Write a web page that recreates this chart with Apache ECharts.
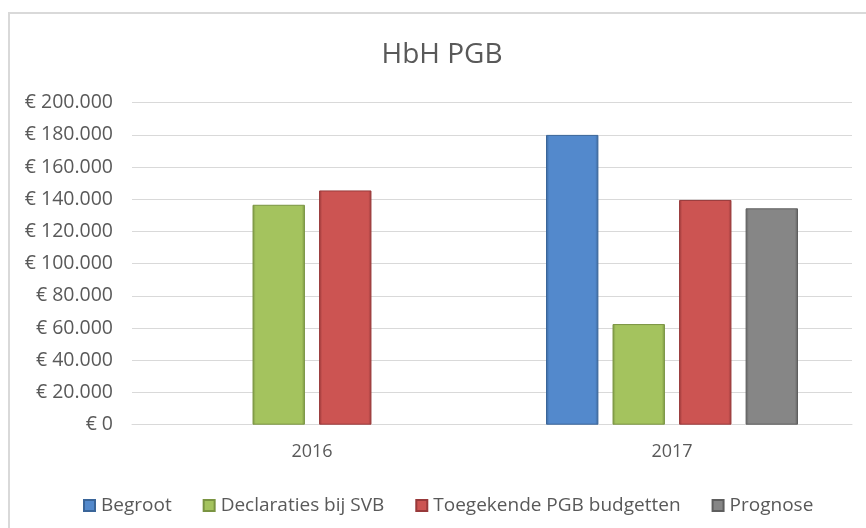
<!DOCTYPE html>
<html>
<head>
<meta charset="utf-8">
<script src="https://cdn.jsdelivr.net/npm/echarts@6/dist/echarts.min.js"></script>
<style>
  html, body { margin: 0; padding: 0; background: #fff; }
  #main { width: 866px; height: 528px; }
</style>
</head>
<body>
<div id="main"></div>
<script>
var years = ['2016', '2017'];
var seriesNames = ['Begroot', 'Declaraties bij SVB', 'Toegekende PGB budgetten', 'Prognose'];
var begroot = [null, 180000];
var declaraties = [136600, 62500];
var toegekend = [145500, 139600];
var prognose = [null, 134400];
var yTicks = [0, 20000, 40000, 60000, 80000, 100000, 120000, 140000, 160000, 180000, 200000];

var colors = ['#5389CC', '#A4C35E', '#CC5452', '#868686'];
var edges = ['#3A6599', '#7A9442', '#98393A', '#5E5E5E'];

var font = "'Open Sans', 'Liberation Sans', sans-serif";

function euro(v) {
    return '€ ' + String(v).replace(/\B(?=(\d{3})+(?!\d))/g, '.');
}

function barStyle(i) {
    return {
        color: {
            type: 'linear', x: 0, y: 0, x2: 1, y2: 0,
            colorStops: [
                { offset: 0, color: edges[i] },
                { offset: 0.06, color: colors[i] },
                { offset: 0.94, color: colors[i] },
                { offset: 1, color: edges[i] }
            ]
        },
        borderColor: edges[i],
        borderWidth: 1
    };
}

var allData = [begroot, declaraties, toegekend, prognose];
var series = [];
for (var i = 0; i < seriesNames.length; i++) {
    series.push({
        name: seriesNames[i],
        type: 'bar',
        barGap: '27%',
        barCategoryGap: '30%',
        itemStyle: barStyle(i),
        data: allData[i]
    });
}

var option = {
    animation: false,
    color: colors,
    textStyle: { fontFamily: font },
    graphic: [{
        type: 'rect',
        shape: { x: 9, y: 13, width: 900, height: 600 },
        style: { fill: 'none', stroke: '#D9D9D9', lineWidth: 2 },
        silent: true
    }],
    title: {
        text: 'HbH PGB',
        left: 437,
        textAlign: 'center',
        top: 36,
        textStyle: { fontFamily: font, fontSize: 28, fontWeight: 'normal', color: '#595959' }
    },
    legend: {
        left: 78,
        top: 491,
        itemWidth: 11,
        itemHeight: 11,
        itemGap: 31,
        icon: 'rect',
        textStyle: { fontFamily: font, fontSize: 19, color: '#595959', padding: [0, 0, 0, 1] },
        data: seriesNames
    },
    grid: { left: 132, right: 14, top: 102.7, bottom: 103.3, containLabel: false },
    xAxis: {
        type: 'category',
        data: years,
        axisLine: { lineStyle: { color: '#D9D9D9', width: 1 } },
        axisTick: { show: false },
        axisLabel: { fontFamily: font, fontSize: 18, color: '#595959', margin: 18 }
    },
    yAxis: {
        type: 'value',
        min: yTicks[0],
        max: yTicks[yTicks.length - 1],
        interval: yTicks[1] - yTicks[0],
        axisLine: { show: false },
        axisTick: { show: false },
        splitLine: { lineStyle: { color: '#D9D9D9', width: 1 } },
        axisLabel: {
            fontFamily: font, fontSize: 19.5, color: '#595959', margin: 19,
            formatter: euro
        }
    },
    series: series
};

var chart = echarts.init(document.getElementById('main'));
chart.setOption(option);
</script>
</body>
</html>
